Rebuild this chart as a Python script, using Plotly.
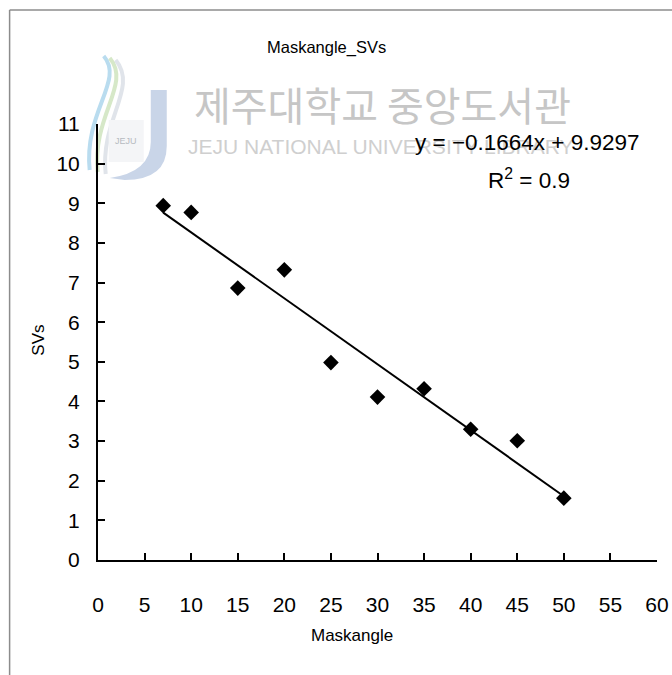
import plotly.graph_objects as go

# Mask angle (deg) vs number of SVs
mask_angle = [7, 10, 15, 20, 25, 30, 35, 40, 45, 50]
svs = [8.94, 8.77, 6.86, 7.32, 4.98, 4.11, 4.32, 3.30, 3.01, 1.56]

# Linear trendline as reported
slope = -0.1664
intercept = 9.9297
r_squared_text = "0.9"

x_ticks = list(range(0, 61, 5))
y_ticks = list(range(0, 12, 1))

W, H = 672, 675
L, R, T, B = 98.3, 15.3, 124, 115
PW, PH = W - L - R, H - T - B

FONT = "Liberation Sans, Arial, sans-serif"


def px(x, y):
    """pixel position -> paper coordinates"""
    return (x - L) / PW, (H - B - y) / PH


def path(points_cmds):
    out = []
    for cmd, pts in points_cmds:
        coords = " ".join("%.4f,%.4f" % px(*p) for p in pts)
        out.append(cmd + " " + coords if coords else cmd)
    return " ".join(out)


fig = go.Figure()

fig.add_trace(go.Scatter(
    x=mask_angle, y=svs, mode="markers",
    marker=dict(symbol="diamond", size=12, color="black"),
    showlegend=False, cliponaxis=False,
))

x_fit = [min(mask_angle), max(mask_angle)]
y_fit = [slope * v + intercept for v in x_fit]
fig.add_trace(go.Scatter(
    x=x_fit, y=y_fit, mode="lines",
    line=dict(color="black", width=2),
    showlegend=False,
))

shapes = []
# outer chart frame (top and left edges)
shapes.append(dict(type="line", xref="paper", yref="paper",
                   x0=px(10, 10)[0], y0=px(10, 10)[1], x1=px(680, 10)[0], y1=px(680, 10)[1],
                   line=dict(color="#8c8c8c", width=1.5)))
shapes.append(dict(type="line", xref="paper", yref="paper",
                   x0=px(10, 10)[0], y0=px(10, 10)[1], x1=px(10, 690)[0], y1=px(10, 690)[1],
                   line=dict(color="#8c8c8c", width=1.5)))

# library logo (light swooshes + J shape), kept behind everything
swooshes = [
    ([(104, 56), (125, 80), (84, 112), (90, 170)], "#b9dcef"),
    ([(110, 58), (132, 84), (92, 116), (98, 172)], "#d6e8c8"),
    ([(116, 60), (139, 88), (100, 120), (106, 174)], "#e0e4ea"),
]
for pts, col in swooshes:
    shapes.append(dict(type="path", xref="paper", yref="paper", layer="below",
                       path=path([("M", [pts[0]]), ("C", pts[1:])]),
                       line=dict(color=col, width=4)))
shapes.append(dict(type="path", xref="paper", yref="paper", layer="below",
                   path=path([("M", [(151, 90)]), ("L", [(167, 90)]), ("L", [(167, 146)]),
                              ("Q", [(167, 180), (125, 180)]), ("L", [(110, 178)]),
                              ("Q", [(151, 172), (151, 142)]), ("Z", [])]),
                   fillcolor="#c9d5e8", line=dict(width=0)))
shapes.append(dict(type="rect", xref="paper", yref="paper", layer="below",
                   x0=px(109, 120)[0], y0=px(109, 120)[1], x1=px(144, 162)[0], y1=px(144, 162)[1],
                   fillcolor="#f4f5f7", line=dict(width=0)))

annotations = [
    dict(text="제주대학교 중앙도서관", x=px(382, 104)[0], y=px(382, 104)[1],
         font=dict(family="Noto Sans CJK KR", size=40, color="#c6c6c6")),
    dict(text="JEJU NATIONAL UNIVERSITY LIBRARY", x=px(381, 146)[0], y=px(381, 146)[1],
         font=dict(family=FONT, size=21, color="#cfcfcf")),
    dict(text="JEJU", x=px(126, 141)[0], y=px(126, 141)[1],
         font=dict(family=FONT, size=9, color="#b6bac0")),
    dict(text="Maskangle_SVs", x=px(327, 47)[0], y=px(327, 47)[1],
         font=dict(family=FONT, size=16.5, color="black")),
    dict(text="y = \u22120.1664x + 9.9297", x=px(527, 142)[0], y=px(527, 142)[1],
         font=dict(family=FONT, size=22.5, color="black")),
    dict(text="R<sup>2</sup> = " + r_squared_text, x=px(529, 179)[0], y=px(529, 179)[1],
         font=dict(family=FONT, size=22.5, color="black")),
    dict(text="SVs", x=px(38, 340)[0], y=px(38, 340)[1], textangle=-90,
         font=dict(family=FONT, size=17, color="black")),
    dict(text="Maskangle", x=px(352, 635)[0], y=px(352, 635)[1],
         font=dict(family=FONT, size=17, color="black")),
]
for a in annotations:
    a.update(xref="paper", yref="paper", showarrow=False, xanchor="center", yanchor="middle")

fig.update_layout(
    width=W, height=H,
    margin=dict(l=L, r=R, t=T, b=B, autoexpand=False),
    paper_bgcolor="white", plot_bgcolor="white",
    shapes=shapes, annotations=annotations,
    font=dict(family=FONT, size=21, color="black"),
)
fig.update_xaxes(
    range=[0, 60], tickvals=x_ticks, ticktext=[str(v) for v in x_ticks],
    ticks="inside", ticklen=7, tickwidth=1.5, tickcolor="black",
    showline=True, linecolor="black", linewidth=2,
    showgrid=False, zeroline=False, ticklabelstandoff=25,
    tickfont=dict(family=FONT, size=21, color="black"),
)
fig.update_yaxes(
    range=[0, 11], tickvals=y_ticks, ticktext=[str(v) for v in y_ticks],
    ticks="inside", ticklen=7, tickwidth=1.5, tickcolor="black",
    showline=True, linecolor="black", linewidth=2,
    showgrid=False, zeroline=False, ticklabelstandoff=12,
    tickfont=dict(family=FONT, size=21, color="black"),
)

fig.write_html("out.html")
